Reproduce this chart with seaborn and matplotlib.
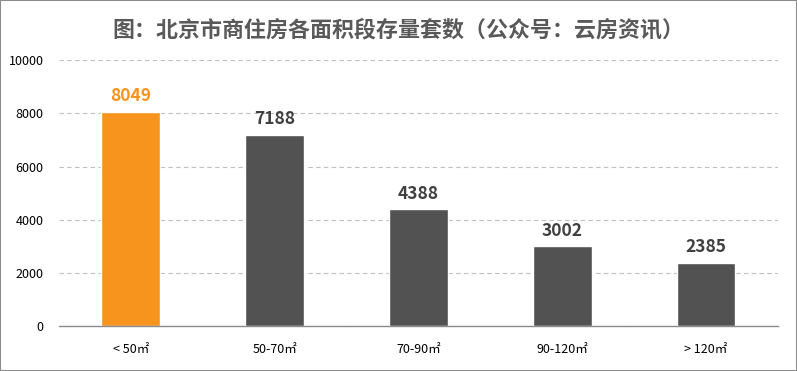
import matplotlib
matplotlib.use("Agg")
import matplotlib.pyplot as plt
import seaborn as sns
import pandas as pd
import numpy as np

categories = ["< 50㎡", "50-70㎡", "70-90㎡", "90-120㎡", "> 120㎡"]
values = [8049, 7188, 4388, 3002, 2385]
bar_colors = ["#F7941D", "#525252", "#525252", "#525252", "#525252"]
label_colors = ["#F7941D", "#404040", "#404040", "#404040", "#404040"]
title = "图：北京市商住房各面积段存量套数（公众号：云房资讯）"

sns.set_theme(style="white")
plt.rcParams['font.family'] = ['Noto Sans CJK SC', 'DejaVu Sans']

df = pd.DataFrame({"cat": categories, "val": values})

fig = plt.figure(figsize=(7.97, 3.71), dpi=100)
ax = fig.add_axes([0.074, 0.121, 0.902, 0.717])
sns.barplot(data=df, x="cat", y="val", hue="cat", palette=bar_colors,
            width=0.41, legend=False, ax=ax, saturation=1)

ax.set_ylim(0, 10000)
ax.set_xlim(-0.5, 4.5)
ax.set_yticks([0, 2000, 4000, 6000, 8000, 10000])
ax.yaxis.grid(True, linestyle=(0, (4, 3)), color="#BFBFBF", linewidth=0.8)
ax.set_axisbelow(True)
for s in ["top", "right", "left"]:
    ax.spines[s].set_visible(False)
ax.spines["bottom"].set_color("#8C8C8C")
ax.spines["bottom"].set_linewidth(1)
ax.set_xlabel("")
ax.set_ylabel("")
ax.tick_params(axis="y", length=0, labelsize=9, labelcolor="#000000", pad=11)
ax.tick_params(axis="x", which="major", length=0, labelsize=9, labelcolor="#000000", pad=12)
ax.set_xticks(np.arange(-0.5, 5.0, 1.0), minor=True)
ax.tick_params(axis="x", which="minor", length=5, color="#8C8C8C", direction="out")

for i, (v, c) in enumerate(zip(values, label_colors)):
    ax.text(i, v + 250, str(v), ha="center", va="bottom", fontsize=12.5,
            fontweight="bold", color=c)

fig.text(0.5, 0.918, title, ha="center", va="center", fontsize=15.8,
         fontweight="bold", color="#595959")

border = plt.Rectangle((0, 0), 1, 1, transform=fig.transFigure, fill=False,
                       edgecolor="#8C8C8C", linewidth=1.5)
fig.patches.append(border)

fig.savefig("out.png", dpi=100)
